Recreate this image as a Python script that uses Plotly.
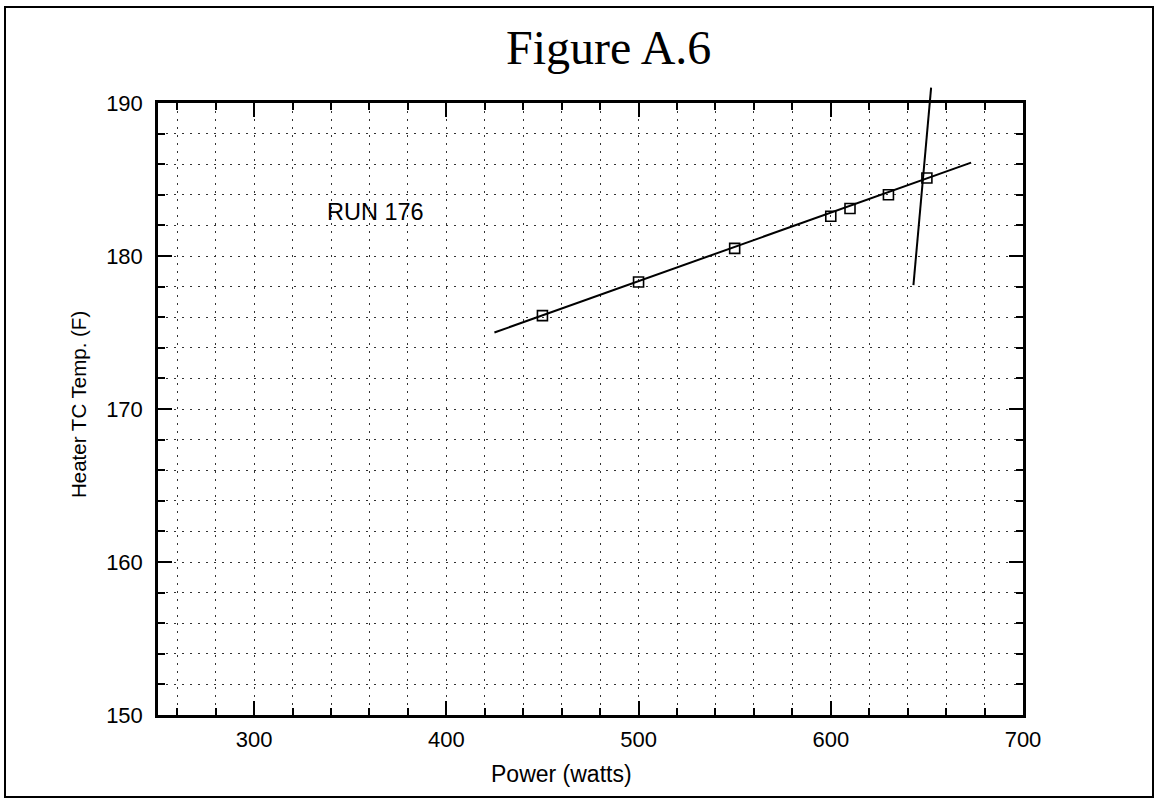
import plotly.graph_objects as go

# Measured data points (Power in watts, Heater TC temp in F)
power = [450, 500, 550, 600, 610, 630, 650]
temp = [176.1, 178.3, 180.5, 182.6, 183.1, 184.0, 185.1]

# Fitted straight line through the points
fit_power = [425, 673]
fit_temp = [175.0, 186.1]

# Steep intersecting line
steep_power = [643, 652.2]
steep_temp = [178.1, 191.0]

x_ticks = [300, 400, 500, 600, 700]
y_ticks = [150, 160, 170, 180, 190]

W, H = 1157, 802
ML, MR, MT, MB = 158, 134, 87, 87
plot_h = H - MT - MB
main_h = 612
ytop2 = 150 + 40 * plot_h / main_h

sans = "Liberation Sans, Arial, Helvetica, sans-serif"
serif = "Liberation Serif, Times New Roman, serif"

fig = go.Figure()

fig.add_trace(go.Scatter(x=fit_power, y=fit_temp, mode="lines",
                         line=dict(color="black", width=2), showlegend=False,
                         xaxis="x", yaxis="y"))
fig.add_trace(go.Scatter(x=power, y=temp, mode="markers",
                         marker=dict(symbol="square-open", size=10, color="black",
                                     line=dict(width=1.6, color="black")),
                         showlegend=False, xaxis="x", yaxis="y"))
fig.add_trace(go.Scatter(x=steep_power, y=steep_temp, mode="lines",
                         line=dict(color="black", width=2), showlegend=False,
                         xaxis="x2", yaxis="y2"))

grid = dict(showgrid=True, gridcolor="#333", griddash="2px,6px", gridwidth=1.2)

fig.update_layout(
    width=W, height=H,
    margin=dict(l=ML, r=MR, t=MT, b=MB),
    paper_bgcolor="white", plot_bgcolor="rgba(0,0,0,0)",
    font=dict(family=sans, color="black", size=22),
    xaxis=dict(range=[250, 700], tickmode="array", tickvals=x_ticks,
               ticktext=[str(v) for v in x_ticks],
               ticks="inside", ticklen=14, tickwidth=2, tickcolor="black",
               showline=True, linecolor="black", linewidth=2.5, mirror="ticks",
               zeroline=False, domain=[0, 1], ticklabelstandoff=3,
               tickfont=dict(family=sans, size=22, color="black"),
               minor=dict(dtick=20, tick0=260, ticks="inside", ticklen=7,
                          tickwidth=1.5, tickcolor="black", **grid),
               **grid),
    yaxis=dict(range=[150, 190], tickmode="array", tickvals=y_ticks,
               ticktext=[str(v) for v in y_ticks],
               ticks="inside", ticklen=14, tickwidth=2, tickcolor="black",
               showline=True, linecolor="black", linewidth=2.5, mirror="ticks",
               zeroline=False, domain=[0, main_h / plot_h], ticklabelstandoff=8,
               tickfont=dict(family=sans, size=22, color="black"),
               minor=dict(dtick=2, tick0=150, ticks="inside", ticklen=7,
                          tickwidth=1.5, tickcolor="black", **grid),
               **grid),
    xaxis2=dict(range=[250, 700], domain=[0, 1], visible=False, anchor="y2",
                showgrid=False, zeroline=False),
    yaxis2=dict(range=[150, ytop2], domain=[0, 1], visible=False, anchor="x2",
                showgrid=False, zeroline=False),
)

def px_to_paper_x(px):
    return (px - ML) / (W - ML - MR)

def px_to_paper_y(py):
    return (H - MB - py) / plot_h

fig.add_annotation(text="Figure A.6", xref="paper", yref="paper",
                   x=px_to_paper_x(608), y=px_to_paper_y(47), showarrow=False,
                   xanchor="center", yanchor="middle",
                   font=dict(family=serif, size=48, color="black"))
fig.add_annotation(text="Heater TC Temp. (F)", xref="paper", yref="paper",
                   x=px_to_paper_x(78), y=px_to_paper_y(405), showarrow=False,
                   textangle=-90, xanchor="center", yanchor="middle",
                   font=dict(family=sans, size=20.5, color="black"))
fig.add_annotation(text="Power (watts)", xref="paper", yref="paper",
                   x=px_to_paper_x(561), y=px_to_paper_y(774), showarrow=False,
                   xanchor="center", yanchor="middle",
                   font=dict(family=sans, size=23, color="black"))
fig.add_annotation(text="RUN 176", xref="x", yref="y", x=363.2, y=182.9,
                   showarrow=False, xanchor="center", yanchor="middle",
                   font=dict(family=sans, size=23.5, color="black"))

fig.add_shape(type="rect", xref="paper", yref="paper",
              x0=px_to_paper_x(5), x1=px_to_paper_x(1153),
              y0=px_to_paper_y(797), y1=px_to_paper_y(7),
              line=dict(color="black", width=2), fillcolor="rgba(0,0,0,0)")

fig.write_html("out.html")
